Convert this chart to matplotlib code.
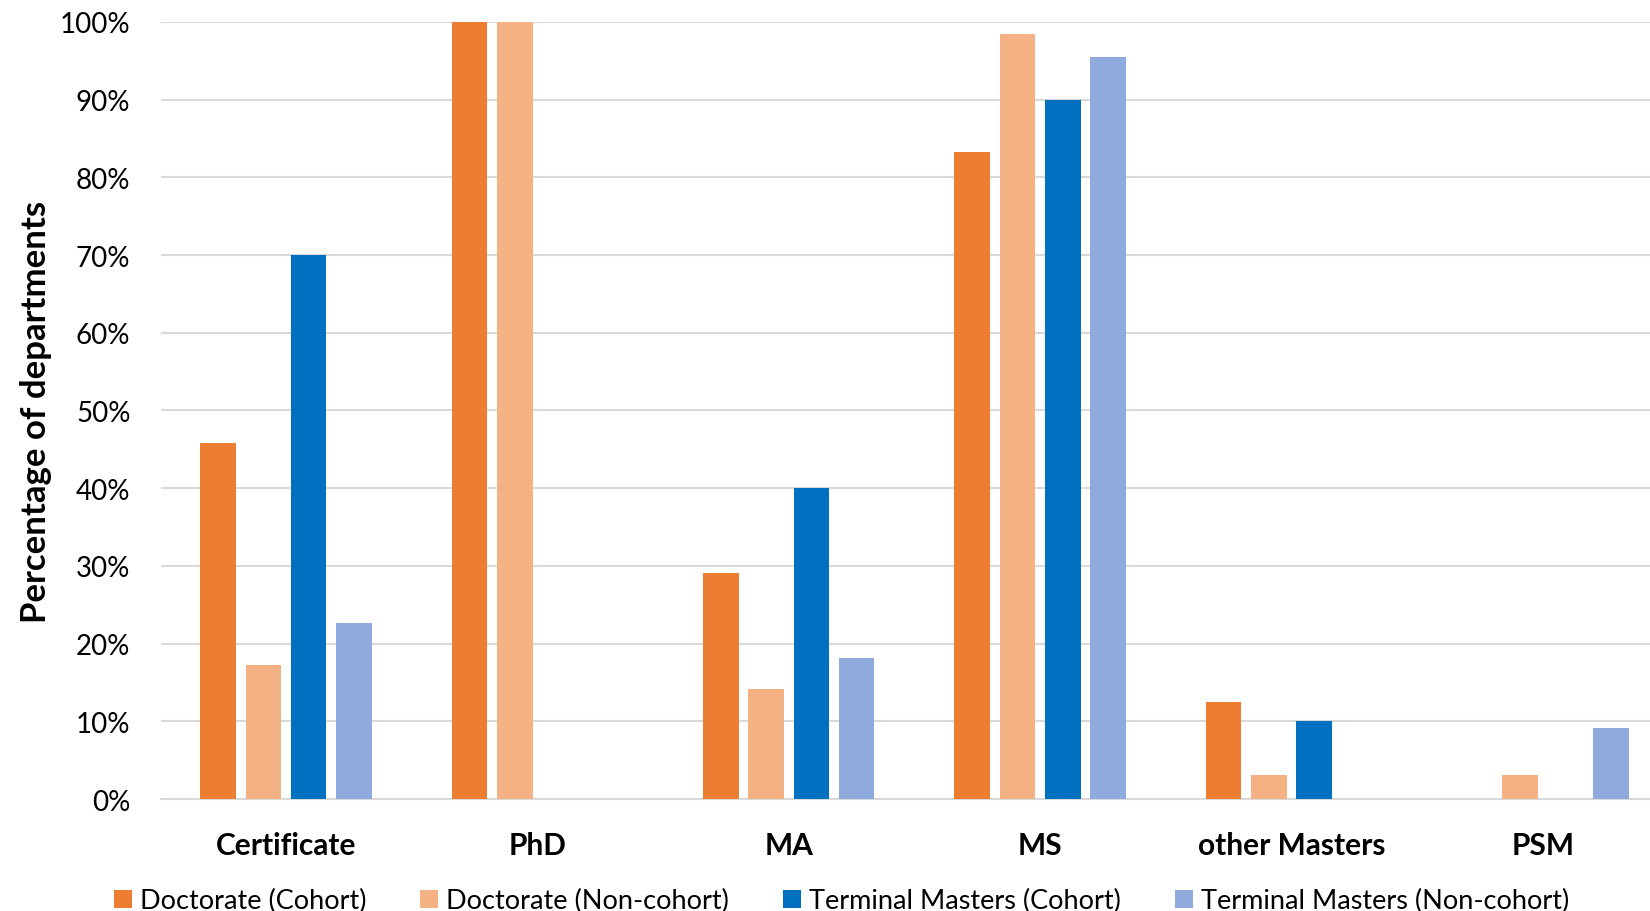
import matplotlib
matplotlib.use("Agg")
import matplotlib.pyplot as plt
import numpy as np
from matplotlib.ticker import PercentFormatter

# values (fraction of departments)
categories = ["Certificate", "PhD", "MA", "MS", "other Masters", "PSM"]
doc_cohort = [0.458, 1.00, 0.291, 0.833, 0.125, 0.0]
doc_noncohort = [0.173, 1.00, 0.142, 0.985, 0.031, 0.031]
tm_cohort = [0.70, 0.0, 0.40, 0.90, 0.10, 0.0]
tm_noncohort = [0.226, 0.0, 0.182, 0.955, 0.0, 0.091]

series = [doc_cohort, doc_noncohort, tm_cohort, tm_noncohort]
names = ["Doctorate (Cohort)", "Doctorate (Non-cohort)",
         "Terminal Masters (Cohort)", "Terminal Masters (Non-cohort)"]
colors = ["#ED7D31", "#F4B183", "#0070C0", "#8FAADC"]

plt.rcParams["font.family"] = ["Lato", "DejaVu Sans"]

fig = plt.figure(figsize=(16.5, 9.12), dpi=100)
ax = fig.add_axes([0.0976, 0.1228, 0.9024, 0.852])

x = np.arange(len(categories))
width = 0.142
step = 0.180
bars = []
for i, (vals, name, col) in enumerate(zip(series, names, colors)):
    b = ax.bar(x + (i - 1.5) * step, vals, width, color=col, label=name, zorder=3)
    bars.append(b)

ax.set_xlim(-0.497, 5.426)
ax.set_ylim(0, 1.0)
ax.set_yticks(np.arange(0, 1.01, 0.1))
ax.yaxis.set_major_formatter(PercentFormatter(1.0, decimals=0))
ax.set_xticks(x)
ax.set_xticklabels(categories, fontweight="bold", fontsize=21.5)
ax.tick_params(axis="both", length=0)
ax.tick_params(axis="y", labelsize=20, pad=22)
ax.tick_params(axis="x", pad=23)
ax.grid(axis="y", color="#D9D9D9", linewidth=1.5, zorder=0)
for s in ["top", "right", "left"]:
    ax.spines[s].set_visible(False)
ax.spines["bottom"].set_color("#D9D9D9")
ax.spines["bottom"].set_linewidth(1.5)

ax.set_ylabel("Percentage of departments", fontsize=25, fontweight="bold")
ax.yaxis.set_label_coords(-0.073, 0.5)

fig.legend(handles=bars, labels=names, loc="lower center", ncol=4,
           bbox_to_anchor=(0.510, -0.029), frameon=False, fontsize=19.5,
           handlelength=0.65, handleheight=0.65, handletextpad=0.3,
           columnspacing=2.0)

fig.savefig("out.png", dpi=100)
